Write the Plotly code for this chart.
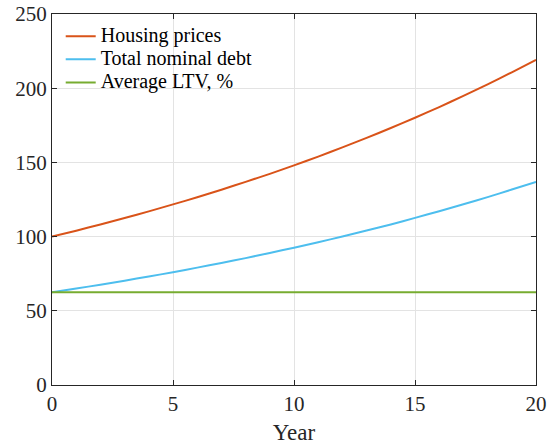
import plotly.graph_objects as go

# Projection horizon, years
years = list(range(0, 21))

# Housing price index (year 0 = 100)
housing_prices = [100, 104, 108.2, 112.5, 117, 121.7, 126.5, 131.6, 136.9, 142.3, 148,
                  153.9, 160.1, 166.5, 173.2, 180.1, 187.3, 194.8, 202.6, 210.7, 219.1]

# Total nominal mortgage debt
total_debt = [62.5, 65, 67.6, 70.3, 73.1, 76, 79.1, 82.2, 85.5, 89, 92.5,
              96.2, 100.1, 104.1, 108.2, 112.6, 117.1, 121.8, 126.6, 131.7, 136.9]

# Average loan-to-value ratio, %
average_ltv = [62.5] * 21

series_names = ["Housing prices", "Total nominal debt", "Average LTV, %"]
series_colors = ["#D95319", "#4DBEEE", "#77AC30"]
x_ticks = [0, 5, 10, 15, 20]
y_ticks = [0, 50, 100, 150, 200, 250]

font_family = "Liberation Serif"

fig = go.Figure()
for name, values, color in zip(series_names, [housing_prices, total_debt, average_ltv], series_colors):
    # legend rows are spaced from the legend font size, so the label is enlarged inline
    fig.add_trace(go.Scatter(x=years, y=values, mode="lines",
                             name=f'<span style="font-size:20px">{name}</span>',
                             line=dict(color=color, width=2, shape="spline", smoothing=0.6)))

axis_style = dict(
    showline=True, linecolor="#262626", linewidth=1, mirror="ticks",
    ticks="inside", ticklen=5, tickcolor="#262626",
    showgrid=True, gridcolor="#E3E3E3", gridwidth=1,
    zeroline=False, automargin=False,
    tickfont=dict(family=font_family, size=21, color="#262626"),
)

fig.update_xaxes(range=[0, 20], tickvals=x_ticks,
                 title=dict(text="Year", font=dict(family=font_family, size=23, color="#262626"),
                            standoff=8),
                 **axis_style)
fig.update_yaxes(range=[0, 250], tickvals=y_ticks, **axis_style)

fig.update_layout(
    width=549, height=447,
    margin=dict(l=52, r=13, t=14, b=62),
    paper_bgcolor="white", plot_bgcolor="white",
    showlegend=True,
    legend=dict(x=0.018, y=0.985, xanchor="left", yanchor="top",
                bgcolor="rgba(255,255,255,0)", borderwidth=0,
                font=dict(family=font_family, size=15.5, color="#000000"),
                tracegroupgap=0),
)

fig.write_html("out.html")
